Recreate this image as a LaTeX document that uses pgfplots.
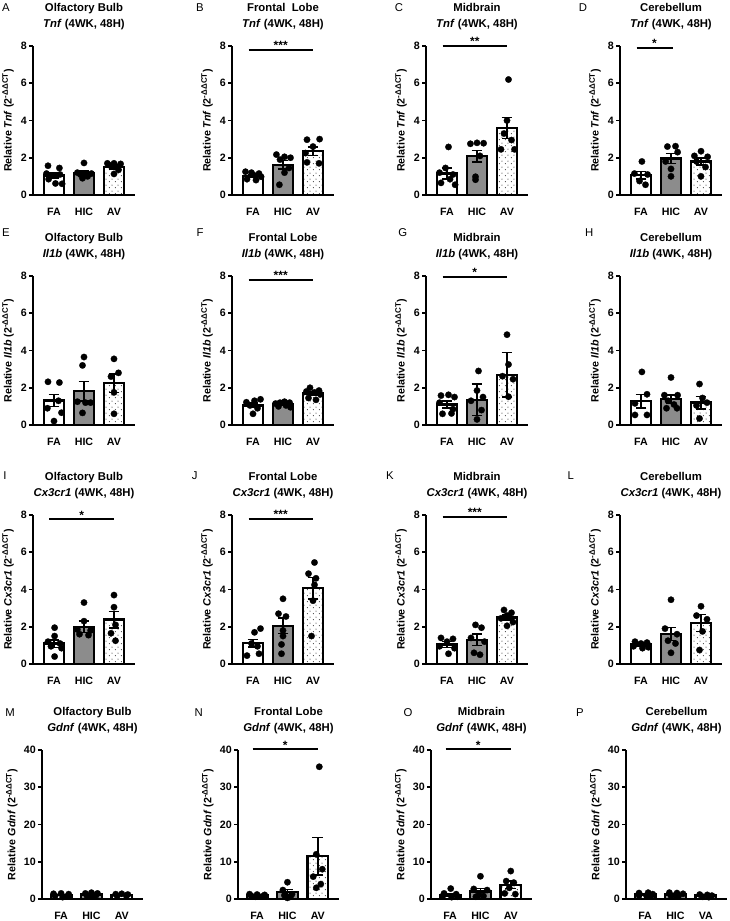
\documentclass[border=0pt]{standalone}
\usepackage{fontspec}
\setmainfont{Liberation Sans}
\usepackage{pgfplots}
\pgfplotsset{compat=1.18}
\usetikzlibrary{patterns}
\pgfdeclarepatternformonly{sdots}{\pgfqpoint{0pt}{0pt}}{\pgfqpoint{4.5pt}{4.5pt}}{\pgfqpoint{4.5pt}{4.5pt}}{%
 \pgfpathcircle{\pgfqpoint{1.125pt}{1.125pt}}{0.42pt}%
 \pgfpathcircle{\pgfqpoint{3.375pt}{3.375pt}}{0.42pt}%
 \pgfusepath{fill}}
\definecolor{hicgray}{RGB}{140,140,140}
\newcommand\T[2]{#1\\\textit{#2} (4WK, 48H)}
\newcommand\Y[1]{Relative \textit{#1} (2\textsuperscript{-ΔΔCT})}
\newcommand\bars[6]{%
 \addplot[fill=white,bar] coordinates {(0,#1) +- (0,#2)};
 \addplot[fill=hicgray,bar] coordinates {(1,#3) +- (0,#4)};
 \addplot[pattern=sdots,bar] coordinates {(2,#5) +- (0,#6)};}
\newcommand\sigA[2]{% FA to AV
 \draw[line width=1.7pt] (axis cs:-0.15,#1) -- (axis cs:2,#1);
 \node[anchor=base,inner sep=0pt,font=\bfseries\fontsize{9}{9}\selectfont] at (axis cs:0.925,#1) {#2};}
\newcommand\sigB[2]{% FA to HIC
 \draw[line width=1.7pt] (axis cs:-0.15,#1) -- (axis cs:1.05,#1);
 \node[anchor=base,inner sep=0pt,font=\bfseries\fontsize{9}{9}\selectfont] at (axis cs:0.45,#1) {#2};}
\pgfplotsset{
 panel/.style={scale only axis, width=76.5pt, height=111.75pt, anchor=south west,
   xmin=-0.7, xmax=2.7, ymin=0, ymax=8, clip=false,
   axis lines=left, axis line style={-, line width=1.4pt, black},
   xtick={0,1,2}, xticklabels={FA,HIC,AV}, ytick={0,2,4,6,8},
   x tick style={draw=none}, y tick style={line width=1.4pt, black},
   major tick length=3pt, tick align=outside,
   /pgf/number format/assume math mode=true,
   tick label style={font=\bfseries\fontsize{8}{9}\selectfont},
   xticklabel style={yshift=-3pt, text height=5.8pt, text depth=0pt},
   yticklabel style={inner sep=1.5pt},
   title style={at={(axis description cs:0.5,1)}, anchor=south, yshift=6pt, inner sep=0pt, align=center, font=\bfseries\fontsize{8.5}{12}\selectfont},
   every axis y label/.style={at={(axis description cs:-0.245,0.5)}, rotate=90, anchor=center, font=\bfseries\fontsize{8}{9}\selectfont},
 },
 gpanel/.style={panel, width=75.75pt, xmin=-0.63, ymax=40, ytick={0,10,20,30,40},
   every axis y label/.style={at={(axis description cs:-0.3,0.5)}, rotate=90, anchor=center, font=\bfseries\fontsize{8}{9}\selectfont}},
 bar/.style={ybar, bar width=0.68, bar shift=0pt, draw=black, line width=1.8pt,
   /pgfplots/error bars/y dir=both, /pgfplots/error bars/y explicit,
   /pgfplots/error bars/error mark=|,
   /pgfplots/error bars/error bar style={line width=1.1pt, black},
   /pgfplots/error bars/error mark options={line width=1.1pt, black, mark size=4pt}},
 pts/.style={only marks, mark=*, mark size=2.4pt, mark options={fill=black, draw=black, line width=0.2pt}},
}
\begin{document}
\begin{tikzpicture}
% ---------------- Row 1: Tnf
\begin{axis}[panel, at={(24.75pt,544.5pt)}, title={\T{Olfactory Bulb}{Tnf}}, ylabel={\Y{Tnf}}]
\bars{1.05}{0.13}{1.18}{0.11}{1.5}{0.1}
\addplot[pts] coordinates {(-0.2,1.57)(0.18,1.45)(-0.25,1.15)(0.2,1.1)(-0.18,0.85)(0.05,0.62)(0.27,0.6)
 (1.0,1.72)(0.78,1.2)(1.25,1.15)(0.88,1.1)(1.12,1.0)(0.95,0.9)
 (1.78,1.7)(2.0,1.7)(2.22,1.67)(1.85,1.6)(2.15,1.35)(2.0,1.13)};
\end{axis}
\begin{axis}[panel, at={(174pt,544.5pt)}, title={\T{Frontal\ \ Lobe}{Tnf}}, ylabel={\Y{Tnf}}]
\bars{1.02}{0.06}{1.62}{0.22}{2.35}{0.22}
\addplot[pts] coordinates {(-0.25,1.25)(-0.05,1.2)(0.2,1.15)(0.05,1.05)(0.27,0.98)(-0.2,0.85)(0.1,0.8)
 (0.78,2.17)(1.05,2.05)(1.25,2.0)(0.9,1.9)(1.2,1.45)(1.05,1.2)(0.88,0.55)
 (1.8,2.97)(2.22,3.0)(2.0,2.6)(1.75,2.25)(1.8,1.75)(2.2,1.7)};
\sigA{7.8}{***}
\end{axis}
\begin{axis}[panel, at={(319.5pt,544.5pt)}, title={\T{Midbrain}{Tnf}}, ylabel={\Y{Tnf}}]
\bars{1.15}{0.3}{2.08}{0.3}{3.6}{0.57}
\addplot[pts] coordinates {(0.05,2.58)(-0.05,1.45)(-0.25,1.2)(0.2,1.1)(0.1,0.85)(-0.2,0.65)(0.27,0.55)
 (0.78,2.75)(1.0,2.8)(1.22,2.78)(1.1,2.1)(0.95,0.98)(0.95,0.82)
 (2.05,6.2)(2.0,4.0)(1.9,3.3)(2.15,2.95)(1.8,2.45)(2.25,2.45)};
\sigA{8.0}{**}
\end{axis}
\begin{axis}[panel, at={(465pt,544.5pt)}, title={\T{Cerebellum}{Tnf}}, ylabel={\Y{Tnf}}]
\bars{1.07}{0.2}{1.95}{0.27}{1.8}{0.18}
\addplot[pts] coordinates {(0.03,1.8)(-0.22,1.15)(0.22,1.1)(-0.05,0.75)(0.15,0.55)
 (0.88,2.6)(1.15,2.62)(1.22,2.3)(0.82,1.8)(1.0,1.4)(1.0,1.0)
 (2.0,2.35)(1.78,2.1)(2.22,2.05)(1.85,1.8)(2.15,1.5)(2.0,1.0)};
\sigB{7.9}{*}
\end{axis}
% ---------------- Row 2: Il1b
\begin{axis}[panel, at={(24.75pt,372pt)}, title={\T{Olfactory Bulb}{Il1b}}, ylabel={\Y{Il1b}}]
\bars{1.32}{0.32}{1.82}{0.52}{2.25}{0.5}
\addplot[pts] coordinates {(-0.2,2.32)(0.18,2.28)(0.15,1.3)(-0.22,0.9)(0.25,0.66)(0.0,0.21)
 (1.0,3.65)(0.95,3.2)(0.78,1.25)(1.22,1.2)(1.05,1.2)(0.95,0.65)
 (2.0,3.55)(2.15,2.8)(1.9,2.6)(2.0,1.75)(2.0,0.6)};
\end{axis}
\begin{axis}[panel, at={(174pt,372pt)}, title={\T{Frontal Lobe}{Il1b}}, ylabel={\Y{Il1b}}]
\bars{1.05}{0.12}{1.12}{0.05}{1.7}{0.1}
\addplot[pts] coordinates {(-0.22,1.22)(0.25,1.38)(0.05,1.3)(-0.1,1.05)(0.15,0.9)(0.0,0.6)
 (0.75,1.15)(0.9,1.2)(1.05,1.25)(1.22,1.2)(0.85,1.0)(1.1,1.05)(1.25,0.95)
 (1.9,2.0)(2.2,1.85)(1.78,1.8)(2.05,1.75)(2.25,1.65)(1.85,1.45)(2.1,1.35)};
\sigA{7.8}{***}
\end{axis}
\begin{axis}[panel, at={(319.5pt,372pt)}, title={\T{Midbrain}{Il1b}}, ylabel={\Y{Il1b}}]
\bars{1.1}{0.18}{1.35}{0.85}{2.7}{1.2}
\addplot[pts] coordinates {(-0.2,1.58)(0.05,1.62)(0.25,1.5)(-0.25,1.2)(0.2,0.85)(-0.15,0.6)(0.15,0.62)
 (1.05,2.9)(1.0,1.85)(0.8,1.3)(1.2,1.5)(1.15,0.8)(1.0,0.3)
 (2.0,4.85)(2.05,3.25)(1.85,2.62)(2.2,2.46)(2.05,1.52)};
\sigA{7.95}{*}
\end{axis}
\begin{axis}[panel, at={(465pt,372pt)}, title={\T{Cerebellum}{Il1b}}, ylabel={\Y{Il1b}}]
\bars{1.28}{0.37}{1.4}{0.22}{1.2}{0.33}
\addplot[pts] coordinates {(0.03,2.85)(0.2,1.65)(-0.2,1.16)(-0.2,0.54)(0.2,0.54)
 (1.0,2.55)(0.78,1.6)(1.22,1.6)(0.9,1.3)(1.1,1.1)(0.85,0.9)(1.2,0.9)
 (1.95,2.2)(2.05,1.45)(2.2,1.2)(1.85,1.05)(1.95,0.35)};
\end{axis}
% ---------------- Row 3: Cx3cr1
\begin{axis}[panel, at={(24.75pt,192.75pt)}, title={\T{Olfactory Bulb}{Cx3cr1}}, ylabel={\Y{Cx3cr1}}]
\bars{1.1}{0.2}{2.0}{0.3}{2.38}{0.45}
\addplot[pts] coordinates {(0.02,1.95)(0.02,1.5)(-0.2,1.2)(0.2,1.1)(-0.1,0.95)(0.25,0.85)(0.02,0.4)
 (1.0,3.3)(1.0,2.3)(0.78,1.85)(1.22,1.8)(0.85,1.6)(1.15,1.55)
 (2.0,3.7)(2.0,3.05)(2.05,2.1)(1.9,1.65)(2.05,1.25)};
\sigA{7.78}{*}
\end{axis}
\begin{axis}[panel, at={(174pt,192.75pt)}, title={\T{Frontal Lobe}{Cx3cr1}}, ylabel={\Y{Cx3cr1}}]
\bars{1.12}{0.2}{2.05}{0.42}{4.07}{0.57}
\addplot[pts] coordinates {(0.25,1.9)(0.05,1.7)(-0.05,1.1)(0.15,0.95)(0.2,0.55)(-0.2,0.45)
 (1.0,3.5)(0.85,2.7)(1.1,2.55)(1.0,1.8)(1.0,1.5)(0.95,1.05)(0.95,0.55)
 (2.05,5.45)(1.85,4.85)(2.1,4.6)(2.05,4.25)(2.0,3.4)(1.95,1.5)};
\sigA{7.8}{***}
\end{axis}
\begin{axis}[panel, at={(319.5pt,192.75pt)}, title={\T{Midbrain}{Cx3cr1}}, ylabel={\Y{Cx3cr1}}]
\bars{1.05}{0.15}{1.3}{0.3}{2.5}{0.14}
\addplot[pts] coordinates {(-0.2,1.4)(0.2,1.35)(0.0,1.2)(-0.25,0.95)(0.25,0.85)(0.05,0.55)
 (0.95,2.1)(1.15,1.95)(0.8,1.4)(1.25,1.2)(0.9,0.6)(1.1,0.5)
 (1.9,2.9)(2.15,2.75)(2.0,2.6)(1.8,2.45)(2.2,2.25)(2.0,2.05)};
\sigA{7.9}{***}
\end{axis}
\begin{axis}[panel, at={(465pt,192.75pt)}, title={\T{Cerebellum}{Cx3cr1}}, ylabel={\Y{Cx3cr1}}]
\bars{1.05}{0.08}{1.6}{0.35}{2.2}{0.45}
\addplot[pts] coordinates {(-0.2,1.2)(0.2,1.15)(0.0,1.1)(-0.25,0.95)(0.25,0.9)(0.05,0.85)
 (1.0,3.45)(0.8,1.9)(1.2,1.6)(0.9,1.25)(1.15,1.1)(1.0,0.6)
 (2.0,3.1)(1.85,2.6)(2.2,2.4)(2.05,1.75)(1.95,0.75)};
\end{axis}
% ---------------- Row 4: Gdnf
\begin{axis}[gpanel, at={(31.5pt,16.5pt)}, title={\T{Olfactory Bulb}{Gdnf}}, ylabel={\Y{Gdnf}}]
\bars{1.0}{0.12}{1.2}{0.12}{1.0}{0.1}
\addplot[pts] coordinates {(-0.25,1.4)(0.0,1.5)(0.25,1.3)(-0.2,0.8)(0.2,0.7)(0.05,0.5)
 (0.8,1.5)(1.0,1.7)(1.2,1.5)(0.85,0.9)(1.15,1.0)(1.0,0.8)
 (1.8,1.3)(2.0,1.4)(2.2,1.2)(1.85,0.8)(2.15,0.9)};
\end{axis}
\begin{axis}[gpanel, at={(178.5pt,16.5pt)}, title={\T{Frontal Lobe}{Gdnf}}, ylabel={\Y{Gdnf}}]
\bars{1.0}{0.08}{1.8}{0.7}{11.5}{5.0}
\addplot[pts] coordinates {(-0.25,1.3)(0.0,1.2)(0.25,1.1)(-0.2,0.9)(0.2,0.8)(0.05,0.7)(-0.05,0.6)
 (1.0,4.5)(0.85,2.4)(1.15,1.3)(0.9,1.0)(1.1,0.6)(1.0,0.3)
 (2.05,35.5)(1.95,12.0)(2.15,8.0)(1.85,6.0)(2.1,4.0)(1.95,3.0)};
\sigA{40.2}{*}
\end{axis}
\begin{axis}[gpanel, at={(323.25pt,16.5pt)}, title={\T{Midbrain}{Gdnf}}, ylabel={\Y{Gdnf}}]
\bars{1.0}{0.35}{2.0}{0.8}{3.8}{1.0}
\addplot[pts] coordinates {(0.02,2.8)(-0.2,1.5)(0.2,1.3)(-0.25,0.7)(0.25,0.6)(0.05,0.5)
 (1.0,6.1)(0.78,2.7)(1.22,2.4)(0.95,1.1)(1.1,0.8)(0.85,0.6)
 (2.0,7.5)(1.85,4.8)(2.1,4.4)(1.95,3.0)(1.8,1.5)(2.15,1.3)};
\sigA{40.2}{*}
\end{axis}
\begin{axis}[gpanel, at={(469.5pt,16.5pt)}, title={\T{Cerebellum}{Gdnf}}, ylabel={\Y{Gdnf}}, xticklabels={FA,HIC,VA}]
\bars{1.2}{0.15}{1.2}{0.15}{0.9}{0.1}
\addplot[pts] coordinates {(-0.2,1.6)(0.1,1.7)(0.25,1.3)(-0.2,0.9)(0.05,0.8)(0.2,0.9)
 (0.8,1.7)(1.05,1.6)(1.25,1.4)(0.85,0.9)(1.1,0.8)(1.0,1.0)
 (1.8,1.2)(2.05,1.1)(2.2,0.9)(1.9,0.6)(2.1,0.5)};
\end{axis}
% ---------------- panel letters
\begin{scope}[every node/.style={font=\fontsize{8.5}{10}\selectfont}]
\node at (4.5pt,684.75pt) {A}; \node at (150pt,684.75pt) {B}; \node at (299.25pt,684.75pt) {C}; \node at (437.25pt,684.75pt) {D};
\node at (4.5pt,516pt) {E}; \node at (150pt,516pt) {F}; \node at (302pt,516pt) {G}; \node at (442pt,516pt) {H};
\node at (3.75pt,333.75pt) {I}; \node at (146pt,333.75pt) {J}; \node at (292.5pt,333.75pt) {K}; \node at (428pt,333.75pt) {L};
\node at (7.5pt,156pt) {M}; \node at (149pt,156pt) {N}; \node at (306pt,156pt) {O}; \node at (435pt,156pt) {P};
\end{scope}
\pgfresetboundingbox
\path[use as bounding box] (0,0) rectangle (546.75pt,690.75pt);
\end{tikzpicture}
\end{document}
